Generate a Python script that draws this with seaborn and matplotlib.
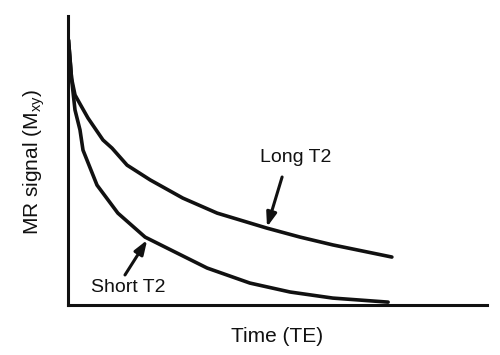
import matplotlib
matplotlib.use("Agg")
import matplotlib.pyplot as plt
import seaborn as sns
import pandas as pd

# Data (arbitrary units)
long_time = [0.12, 0.84, 1.67, 2.86, 4.77, 8.35, 10.5, 14.1, 19.6, 27.4, 35.6, 47.5, 55.4, 63.2, 77.3]
long_signal = [91.7, 78.5, 72.7, 69.6, 64.7, 57.1, 54.3, 48.4, 43.3, 37.0, 31.8, 26.6, 23.5, 20.8, 16.6]
short_time = [0.12, 0.88, 1.67, 2.86, 3.58, 6.92, 11.9, 18.4, 26.0, 33.2, 43.4, 53.0, 63.2, 76.4]
short_signal = [91.7, 77.9, 67.5, 60.6, 53.6, 41.5, 31.8, 23.5, 18.0, 12.8, 7.6, 4.5, 2.4, 1.0]
series_labels = ["Long T2", "Short T2"]

df = pd.concat([
    pd.DataFrame({"time": long_time, "signal": long_signal, "series": series_labels[0]}),
    pd.DataFrame({"time": short_time, "signal": short_signal, "series": series_labels[1]}),
])

sns.set_theme(style="white")
plt.rcParams['font.family'] = ['Liberation Sans', 'DejaVu Sans']

fig = plt.figure(figsize=(5.0, 3.55), dpi=100)
ax = fig.add_axes([0.136, 0.1408, 0.838, 0.814])

sns.lineplot(data=df, x="time", y="signal", hue="series", units="series",
             estimator=None, sort=False, palette=["#111111", "#111111"],
             linewidth=2.6, legend=False, ax=ax)

ax.set_xlim(0, 100)
ax.set_ylim(0, 100)
ax.set_xticks([])
ax.set_yticks([])
for s in ["top", "right"]:
    ax.spines[s].set_visible(False)
for s in ["left", "bottom"]:
    ax.spines[s].set_color("#111111")
    ax.spines[s].set_linewidth(2.2)

ax.set_xlabel("Time (TE)", fontsize=15, color="#111111")
ax.xaxis.set_label_coords(0.5, -0.075)
ax.set_ylabel("MR signal (M$_{\\mathregular{xy}}$)", fontsize=15, color="#111111")
ax.yaxis.set_label_coords(-0.05, 0.495)

arrowprops = dict(arrowstyle="-|>,head_length=0.7,head_width=0.25", color="#111111",
                  lw=2.2, shrinkA=0, shrinkB=0)
ax.annotate("", xy=(47.5, 27.0), xytext=(51.1, 44.3), arrowprops=arrowprops)
ax.text(54.4, 50.9, series_labels[0], fontsize=14, ha="center", va="center", color="#111111")
ax.annotate("", xy=(18.9, 22.5), xytext=(13.6, 10.4), arrowprops=arrowprops)
ax.text(14.3, 5.9, series_labels[1], fontsize=14, ha="center", va="center", color="#111111")

fig.savefig("out.png", dpi=100, facecolor="white")
